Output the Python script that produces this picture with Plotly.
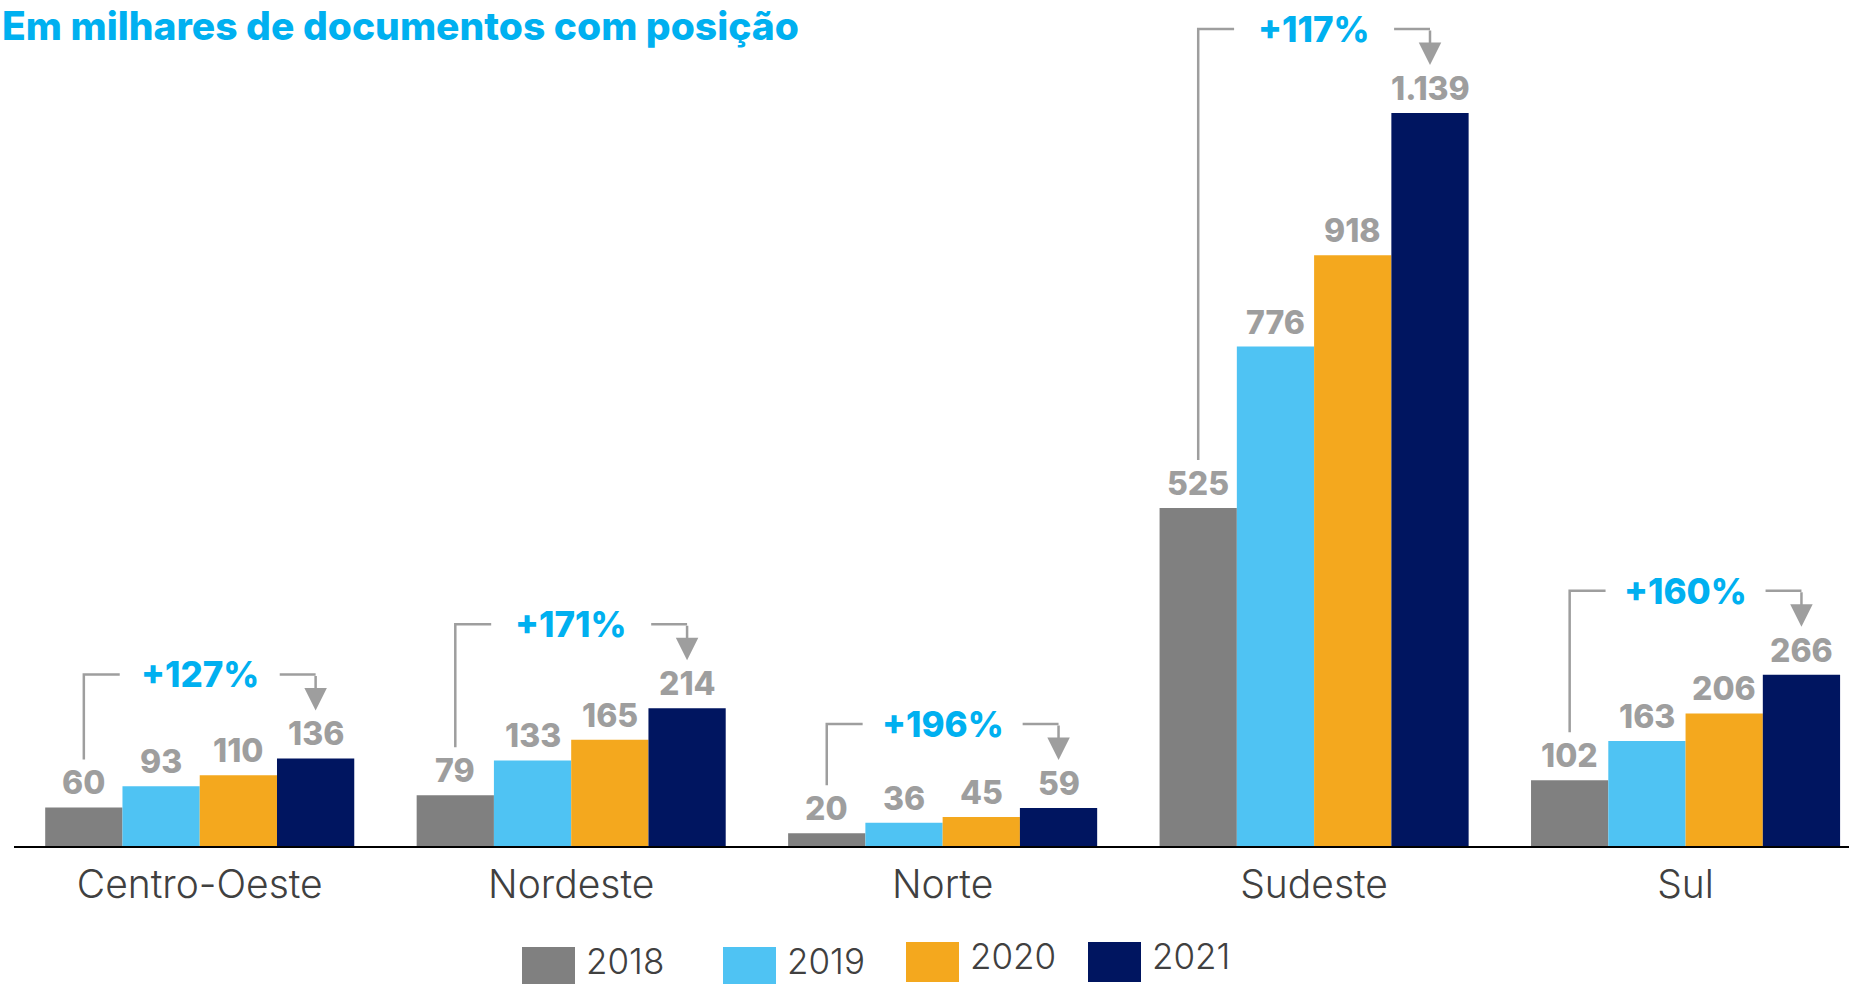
import plotly.graph_objects as go

regions = ["Centro-Oeste", "Nordeste", "Norte", "Sudeste", "Sul"]
years = ["2018", "2019", "2020", "2021"]
v2018 = [60, 79, 20, 525, 102]
v2019 = [93, 133, 36, 776, 163]
v2020 = [110, 165, 45, 918, 206]
v2021 = [136, 214, 59, 1139, 266]
growth = ["+127%", "+171%", "+196%", "+117%", "+160%"]
colors = ["#808080", "#4FC3F3", "#F4A81E", "#001560"]

series = [v2018, v2019, v2020, v2021]

W, H = 1849, 984
ML, MB = 14, 138
PW, PH = W - ML, H - MB
YMAX = 1314.5
XR = [-0.5, 4.44]
k = YMAX / PH                      # y units per px
xk = (XR[1] - XR[0]) / PW          # x units per px
bargap = 0.168
bw = (1 - bargap) / 4

FONT = "Inter"
GRAY = "#9E9E9E"
CYAN = "#00B0F0"
TXT = "#404040"


def fmt(v):
    return f"{v:,}".replace(",", ".")


def px_x(p):
    return (p - ML) / PW


def px_y(p):
    return (PH - p) / PH


fig = go.Figure()
for j, yr in enumerate(years):
    fig.add_trace(go.Bar(x=regions, y=series[j], name=yr,
                         marker=dict(color=colors[j], line=dict(width=0)),
                         showlegend=False))

annotations = []
shapes = []

# value labels
for j in range(4):
    for i, v in enumerate(series[j]):
        annotations.append(dict(x=i + (j - 1.5) * bw, y=v, xref="x", yref="y",
                                text=fmt(v), showarrow=False,
                                yanchor="bottom", yshift=3,
                                font=dict(family=FONT, size=32, color=GRAY,
                                          weight=800)))

# growth brackets
for i in range(len(regions)):
    xl = i - 1.5 * bw
    xr = i + 1.5 * bw
    top = v2021[i] + 84 * k
    low = v2018[i] + 48 * k
    half = 80 * xk
    line = dict(color=GRAY, width=2.5)
    shapes.append(dict(type="path", xref="x", yref="y", line=line,
                       path=f"M{xl},{low} L{xl},{top} L{i - half},{top}"))
    shapes.append(dict(type="line", xref="x", yref="y", line=line,
                       x0=i + half, x1=xr, y0=top, y1=top))
    annotations.append(dict(x=xr, y=v2021[i] + 48 * k, xref="x", yref="y",
                            ax=0, ay=-36, showarrow=True, arrowhead=2,
                            arrowsize=1.8, arrowwidth=2.5, arrowcolor=GRAY,
                            text=""))
    annotations.append(dict(x=i, y=top, xref="x", yref="y",
                            text=growth[i], showarrow=False,
                            yanchor="middle",
                            font=dict(family=FONT, size=35, color=CYAN,
                                      weight=800)))

# title
annotations.append(dict(x=px_x(0), y=px_y(0), xref="paper", yref="paper",
                        xanchor="left", yanchor="top", showarrow=False,
                        text="Em milhares de documentos com posição",
                        font=dict(family=FONT, size=39, color=CYAN,
                                  weight=800)))

# legend drawn by hand to get the large swatches
leg_left = [522, 723, 906, 1088]
leg_dy = [0, 0, -5, -5]
for j, yr in enumerate(years):
    x0 = leg_left[j]
    y0 = 947 + leg_dy[j]
    shapes.append(dict(type="rect", xref="paper", yref="paper",
                       x0=px_x(x0), x1=px_x(x0 + 53),
                       y0=px_y(y0 + 40), y1=px_y(y0),
                       fillcolor=colors[j], line=dict(width=0)))
    annotations.append(dict(x=px_x(x0 + 62), y=px_y(y0 + 37),
                            xref="paper", yref="paper", xanchor="left",
                            yanchor="bottom", showarrow=False, text=yr,
                            font=dict(family=FONT, size=35, color=TXT,
                                      weight=300)))

fig.update_layout(
    width=W, height=H,
    margin=dict(l=ML, r=0, t=0, b=MB),
    plot_bgcolor="white", paper_bgcolor="white",
    barmode="group", bargap=bargap, bargroupgap=0,
    shapes=shapes, annotations=annotations,
    xaxis=dict(range=XR, showline=True, linecolor="black", linewidth=2,
               ticks="", showgrid=False, zeroline=False,
               ticklabelstandoff=3,
               tickfont=dict(family=FONT, size=39, color=TXT, weight=300)),
    yaxis=dict(range=[0, YMAX], visible=False, showgrid=False),
)

fig.write_html("out.html", config={"displayModeBar": False},
               post_script="document.body.style.margin='0';")
